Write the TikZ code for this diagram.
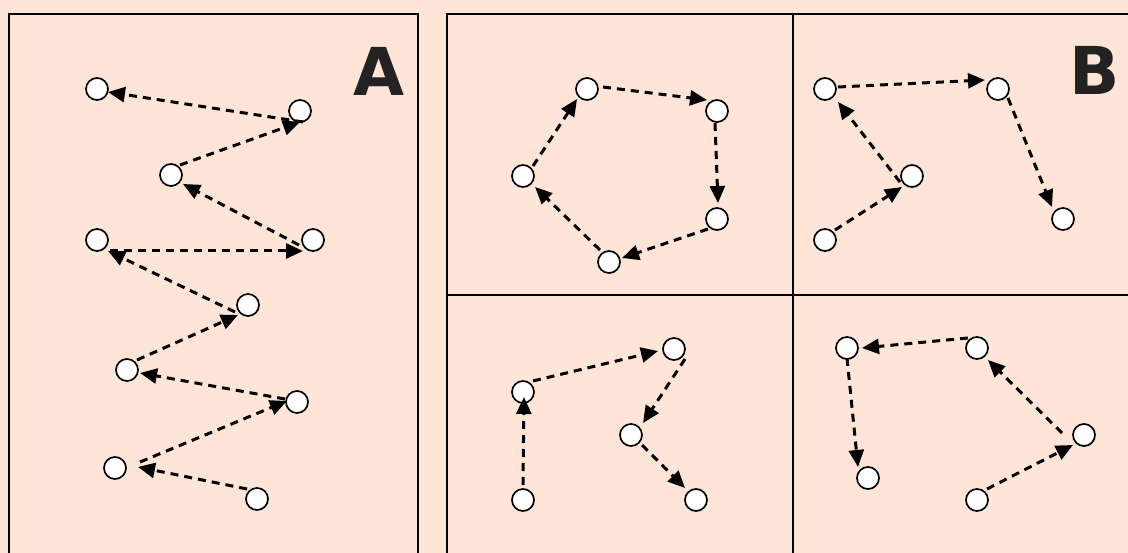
\documentclass[tikz,border=0pt]{standalone}
\usepackage{fontspec}
\newfontfamily\lblfont{DejaVu Sans}
\usetikzlibrary{arrows.meta,calc}
\definecolor{bgpeach}{RGB}{255,229,216}
\definecolor{lblgray}{RGB}{34,34,34}
\tikzset{
  dot/.style={circle,draw=black,fill=white,line width=1.7pt,minimum size=22pt,inner sep=0pt},
  mv/.style={line width=3pt,dash pattern=on 8pt off 6pt,-{Triangle[length=17pt,width=15pt]}},
  panel/.style={draw=black,line width=1.6pt},
  biglbl/.style={inner sep=0pt,text=lblgray,font=\lblfont\bfseries\fontsize{66}{66}\selectfont}
}
\begin{document}
\begin{tikzpicture}[x=1pt,y=-1pt]
\useasboundingbox (0,0) rectangle (1128,553);
\fill[bgpeach] (0,0) rectangle (1128,553);
\clip (0,0) rectangle (1128,553);
% panels
\draw[panel] (9,14) rectangle (418,570);
\draw[panel] (447,14) rectangle (1140,570);
\draw[panel] (793,14) -- (793,570);
\draw[panel] (447,295) -- (1140,295);
\node[biglbl] (labA) at (379,71) {A};
\node[biglbl] (labB) at (1095,70) {B};
% panel A nodes
\node[dot] (A1) at (97,89) {};
\node[dot] (A2) at (300,111) {};
\node[dot] (A3) at (171,175) {};
\node[dot] (A4) at (97,240) {};
\node[dot] (A5) at (313,240) {};
\node[dot] (A6) at (248,305) {};
\node[dot] (A7) at (127,370) {};
\node[dot] (A8) at (297,402) {};
\node[dot] (A9) at (115,468) {};
\node[dot] (A10) at (257,499) {};
% panel B top-left
\node[dot] (B1) at (587,89) {};
\node[dot] (B2) at (717,111) {};
\node[dot] (B3) at (717,219) {};
\node[dot] (B4) at (609,262) {};
\node[dot] (B5) at (523,176) {};
% panel B top-right
\node[dot] (C1) at (825,89) {};
\node[dot] (C2) at (998,89) {};
\node[dot] (C3) at (912,176) {};
\node[dot] (C4) at (825,240) {};
\node[dot] (C5) at (1063,219) {};
% panel B bottom-left
\node[dot] (D1) at (523,500) {};
\node[dot] (D2) at (523,392) {};
\node[dot] (D3) at (674,349) {};
\node[dot] (D4) at (631,435) {};
\node[dot] (D5) at (696,500) {};
% panel B bottom-right
\node[dot] (E1) at (847,348) {};
\node[dot] (E2) at (977,348) {};
\node[dot] (E3) at (1084,435) {};
\node[dot] (E4) at (868,478) {};
\node[dot] (E5) at (977,500) {};
% connectors A
\draw[mv] ($(A2)+(3,11)$) -- ($(A1)+(11,3)$);
\draw[mv] ($(A3)+(9,-10)$) -- ($(A2)+(0,11)$);
\draw[mv] ($(A5)+(-14,5)$) -- ($(A3)+(12,9)$);
\draw[mv] ($(A4)+(13,11)$) -- ($(A5)+(-10,11)$);
\draw[mv] ($(A6)+(-13,7)$) -- ($(A4)+(11,11)$);
\draw[mv] ($(A7)+(10,-10)$) -- ($(A6)+(-10,10)$);
\draw[mv] ($(A8)+(-12,-3)$) -- ($(A7)+(13,3)$);
\draw[mv] ($(A9)+(25,-6)$) -- ($(A8)+(-10,-1)$);
\draw[mv] ($(A10)+(-10,-10)$) -- ($(A9)+(23,-1)$);
% connectors B
\draw[mv] ($(B1)+(16,-2)$) -- ($(B2)+(-10,-11)$);
\draw[mv] ($(B2)+(-2,12)$) -- ($(B3)+(1,-16)$);
\draw[mv] ($(B3)+(-9,10)$) -- ($(B4)+(13,-4)$);
\draw[mv] ($(B4)+(-9,-12)$) -- ($(B5)+(12,11)$);
\draw[mv] ($(B5)+(10,-10)$) -- ($(B1)+(-10,10)$);
% connectors C
\draw[mv] ($(C4)+(10,-10)$) -- ($(C3)+(-10,11)$);
\draw[mv] ($(C3)+(-12,6)$) -- ($(C1)+(13,13)$);
\draw[mv] ($(C1)+(13,-2)$) -- ($(C2)+(-13,-9)$);
\draw[mv] ($(C2)+(10,9)$) -- ($(C5)+(-11,-12)$);
% connectors D
\draw[mv] ($(D1)+(0,-15)$) -- ($(D2)+(1,5)$);
\draw[mv] ($(D2)+(10,-11)$) -- ($(D3)+(-16,2)$);
\draw[mv] ($(D3)+(11,10)$) -- ($(D4)+(12,-12)$);
\draw[mv] ($(D4)+(11,10)$) -- ($(D5)+(-11,-12)$);
% connectors E
\draw[mv] ($(E5)+(10,-11)$) -- ($(E3)+(-11,10)$);
\draw[mv] ($(E3)+(-22,-2)$) -- ($(E2)+(11,12)$);
\draw[mv] ($(E2)+(-9,-10)$) -- ($(E1)+(15,0)$);
\draw[mv] ($(E1)+(0,10)$) -- ($(E4)+(-10,-11)$);
\end{tikzpicture}
\end{document}
